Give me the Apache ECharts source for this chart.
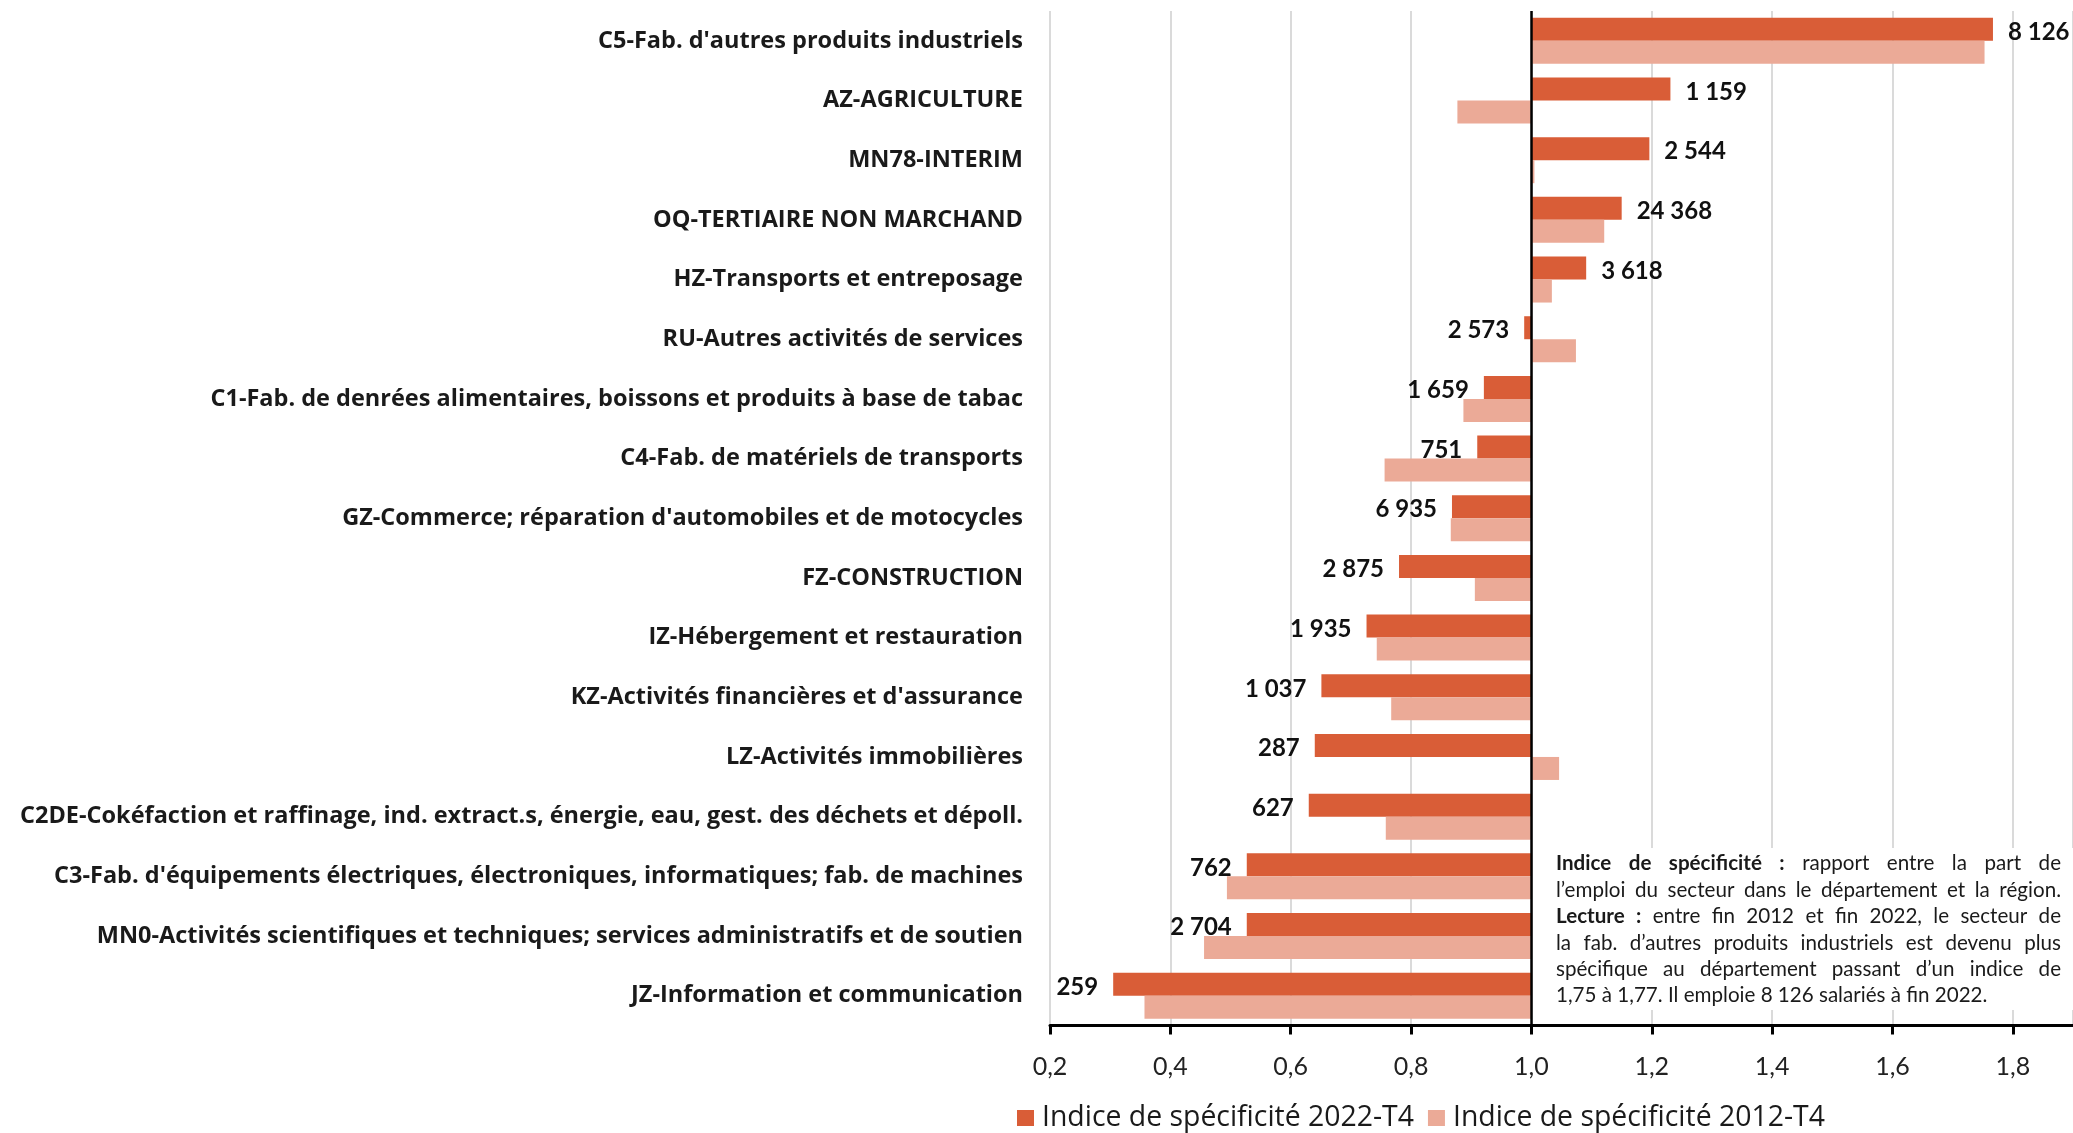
<!DOCTYPE html>
<html>
<head>
<meta charset="utf-8">
<script src="https://cdn.jsdelivr.net/npm/echarts@6/dist/echarts.min.js"></script>
<style>
html,body{margin:0;padding:0;background:#fff;}
#chart{width:2073px;height:1133px;}
</style>
</head>
<body>
<div id="chart"></div>
<script>
const categories = [
  "C5-Fab. d'autres produits industriels",
  "AZ-AGRICULTURE",
  "MN78-INTERIM",
  "OQ-TERTIAIRE NON MARCHAND",
  "HZ-Transports et entreposage",
  "RU-Autres activités de services",
  "C1-Fab. de denrées alimentaires, boissons et produits à base de tabac",
  "C4-Fab. de matériels de transports",
  "GZ-Commerce; réparation d'automobiles et de motocycles",
  "FZ-CONSTRUCTION",
  "IZ-Hébergement et restauration",
  "KZ-Activités financières et d'assurance",
  "LZ-Activités immobilières",
  "C2DE-Cokéfaction et raffinage, ind. extract.s, énergie, eau, gest. des déchets et dépoll.",
  "C3-Fab. d'équipements électriques, électroniques, informatiques; fab. de machines",
  "MN0-Activités scientifiques et techniques; services administratifs et de soutien",
  "JZ-Information et communication"
];
const spec2022 = [1.767, 1.231, 1.196, 1.150, 1.091, 0.988, 0.921, 0.910, 0.868, 0.780, 0.726, 0.651, 0.640, 0.630, 0.527, 0.527, 0.305];
const spec2012 = [1.753, 0.877, 1.005, 1.121, 1.034, 1.074, 0.887, 0.756, 0.866, 0.906, 0.743, 0.767, 1.046, 0.758, 0.494, 0.456, 0.357];
const employees2022 = [8126, 1159, 2544, 24368, 3618, 2573, 1659, 751, 6935, 2875, 1935, 1037, 287, 627, 762, 2704, 259];
const seriesNames = ["Indice de spécificité 2022-T4", "Indice de spécificité 2012-T4"];
const xTicks = {min: 0.2, max: 1.9, interval: 0.2};
const baseline = 1.0;
const noteLines = [
  [{t: "Indice de spécificité :", b: true}, {t: "rapport entre la part de"}],
  [{t: "l’emploi du secteur dans le département et la région."}],
  [{t: "Lecture :", b: true}, {t: "entre fin 2012 et fin 2022, le secteur de"}],
  [{t: "la fab. d’autres produits industriels est devenu plus"}],
  [{t: "spécifique au département passant d’un indice de"}],
  [{t: "1,75 à 1,77. Il emploie 8 126 salariés à fin 2022."}]
];

const FONT = 'Lato, "Noto Sans", sans-serif';
const FONT2 = '"Open Sans", "Noto Sans", sans-serif';
const C22 = '#D95D37', C12 = '#EBAA97';

function fmt(n) { return String(n).replace(/\B(?=(\d{3})+(?!\d))/g, ' '); }

// bars start at the 1.0 baseline: invisible stack base + visible span
const base22 = spec2022.map(v => Math.min(v, baseline));
const span22 = spec2022.map(v => ({
  value: Math.abs(v - baseline),
  label: {position: v >= baseline ? 'right' : 'left'}
}));
const base12 = spec2012.map(v => Math.min(v, baseline));
const span12 = spec2012.map(v => Math.abs(v - baseline));

// justified note text
const meas = document.createElement('canvas').getContext('2d');
const NOTE_FS = 20.6, NOTE_X = 1556, NOTE_W = 505, NOTE_Y0 = 866, NOTE_LH = 26.4;
const noteEls = [];
noteLines.forEach((line, li) => {
  const words = [];
  line.forEach(seg => seg.t.split(' ').forEach(w => words.push({w, b: !!seg.b})));
  const widths = words.map(o => { meas.font = (o.b ? 'bold ' : '') + NOTE_FS + 'px ' + FONT; return meas.measureText(o.w).width; });
  meas.font = NOTE_FS + 'px ' + FONT;
  const spaceW = meas.measureText(' ').width;
  const total = widths.reduce((a, b) => a + b, 0);
  const last = li === noteLines.length - 1;
  const gap = last ? spaceW : (NOTE_W - total) / (words.length - 1);
  let x = NOTE_X;
  words.forEach((o, i) => {
    noteEls.push({
      type: 'text', z: 101, left: x, top: NOTE_Y0 + li * NOTE_LH - NOTE_FS * 0.62,
      style: {text: o.w, fontFamily: FONT, fontSize: NOTE_FS, fontWeight: o.b ? 'bold' : 'normal', fill: '#1a1a1a'}
    });
    x += widths[i] + gap;
  });
});

const chart = echarts.init(document.getElementById('chart'), null, {renderer: 'canvas'});
chart.setOption({
  animation: false,
  backgroundColor: '#fff',
  textStyle: {fontFamily: FONT},
  grid: {left: 1050, right: 0, top: 11, bottom: 107.5, containLabel: false},
  legend: {
    data: seriesNames, left: 1017, top: 1104, padding: 0, icon: 'rect', itemWidth: 17, itemHeight: 16, itemGap: 14,
    textStyle: {fontFamily: FONT2, fontSize: 28.4, color: '#1a1a1a', padding: [0, 0, 0, 3]}
  },
  xAxis: {
    type: 'value', min: xTicks.min, max: xTicks.max, interval: xTicks.interval,
    axisLine: {show: true, lineStyle: {color: '#000', width: 3}},
    axisTick: {show: true, length: 9, lineStyle: {color: '#000', width: 3}},
    axisLabel: {
      showMaxLabel: false, margin: 29, fontFamily: FONT, fontSize: 25, color: '#222',
      formatter: v => v.toFixed(1).replace('.', ',')
    },
    splitLine: {show: true, lineStyle: {color: '#dadada', width: 2}}
  },
  yAxis: {
    type: 'category', data: categories, inverse: true,
    axisLine: {show: false}, axisTick: {show: false},
    axisLabel: {margin: 27, fontFamily: FONT2, fontSize: 23.5, fontWeight: 'bold', color: '#1a1a1a'}
  },
  series: [
    {type: 'bar', stack: 'a', data: base22, barWidth: 23, barGap: '0%', silent: true,
     itemStyle: {color: 'transparent'}, tooltip: {show: false}},
    {type: 'bar', name: seriesNames[0], stack: 'a', data: span22, barWidth: 23, barGap: '0%',
     itemStyle: {color: C22},
     label: {show: true, distance: 15, offset: [0, 3], fontFamily: FONT, fontSize: 24, fontWeight: 'bold', color: '#111',
       formatter: p => fmt(employees2022[p.dataIndex])},
     markLine: {silent: true, symbol: 'none', animation: false, label: {show: false},
       lineStyle: {color: '#000', width: 2.5, type: 'solid'}, data: [{xAxis: baseline}]}},
    {type: 'bar', stack: 'b', data: base12, barWidth: 23, barGap: '0%', silent: true,
     itemStyle: {color: 'transparent'}, tooltip: {show: false}},
    {type: 'bar', name: seriesNames[1], stack: 'b', data: span12, barWidth: 23, barGap: '0%',
     itemStyle: {color: C12}}
  ],
  graphic: [
    {type: 'rect', z: 100, shape: {x: 1540, y: 848, width: 533, height: 162}, style: {fill: '#fff'}}
  ].concat(noteEls)
});
</script>
</body>
</html>
